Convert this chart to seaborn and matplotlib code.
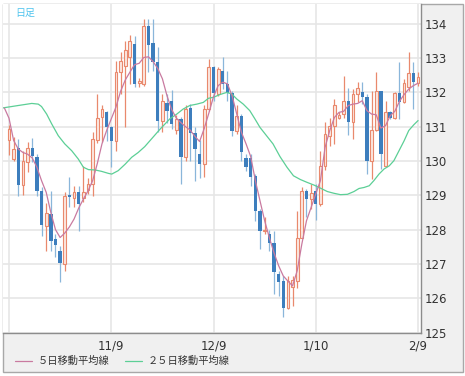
import matplotlib
matplotlib.use("Agg")
from matplotlib import pyplot as plt
from matplotlib.patches import Rectangle
from matplotlib.lines import Line2D
import seaborn as sns
import numpy as np
import pandas as pd

# daily candles, index 0 = first visible day
opens = [130.61, 130.06, 130.38, 129.30, 129.96, 130.38, 130.13, 129.13, 128.11, 128.47,
         127.72, 127.38, 127.01, 129.02, 128.92, 129.11, 128.92, 129.15, 129.33, 130.61,
         131.29, 131.42, 130.98, 130.59, 132.59, 132.78, 133.03, 133.40, 132.27, 132.25,
         133.95, 133.44, 132.88, 131.18, 131.70, 131.74, 130.90, 131.23, 130.13, 131.55,
         130.81, 130.20, 129.91, 131.52, 132.75, 131.96, 132.62, 132.25, 131.97, 130.89,
         131.32, 130.10, 130.10, 129.57, 128.55, 127.95, 127.87, 127.62, 126.72, 126.49,
         125.71, 126.33, 126.51, 127.77, 129.13, 128.89, 129.13, 128.74, 129.86, 130.74,
         131.03, 131.26, 131.37, 131.76, 131.13, 131.96, 132.00, 131.86, 129.99, 130.91,
         132.03, 129.86, 131.42, 131.27, 131.98, 131.71, 132.17, 132.56, 132.27]
highs = [131.06, 130.69, 130.64, 130.30, 130.55, 130.66, 130.20, 129.25, 128.77, 129.13,
         127.87, 127.53, 129.09, 129.54, 129.28, 129.28, 129.86, 129.52, 130.84, 131.96,
         131.64, 131.47, 131.03, 132.93, 133.19, 133.51, 133.68, 133.66, 132.42, 134.15,
         134.15, 134.15, 133.32, 131.96, 131.96, 132.07, 131.33, 131.28, 131.62, 131.66,
         130.98, 130.60, 131.62, 132.98, 132.78, 132.75, 133.03, 132.62, 132.03, 131.62,
         131.37, 130.20, 130.20, 129.62, 128.60, 128.36, 127.98, 127.97, 126.80, 126.66,
         126.66, 126.65, 128.55, 129.23, 129.18, 129.33, 129.33, 130.30, 131.13, 131.27,
         131.81, 131.42, 132.49, 132.13, 132.10, 132.30, 132.30, 131.96, 132.05, 132.59,
         132.05, 131.76, 131.47, 132.00, 132.88, 132.39, 133.17, 132.88, 132.59]
lows = [130.19, 130.00, 128.99, 129.00, 129.67, 129.96, 128.99, 127.80, 127.38, 127.38,
        127.19, 126.46, 126.80, 128.65, 128.65, 127.97, 128.80, 129.04, 128.99, 130.52,
        130.55, 130.59, 129.82, 130.30, 131.96, 130.98, 132.25, 132.15, 132.15, 132.20,
        132.59, 132.64, 130.84, 130.84, 131.10, 130.93, 130.80, 129.33, 130.00, 130.00,
        129.43, 129.52, 129.54, 131.47, 131.76, 131.91, 132.10, 131.76, 130.74, 130.80,
        130.00, 129.72, 129.28, 128.26, 127.43, 127.87, 127.38, 126.12, 126.07, 125.46,
        125.68, 125.78, 126.31, 127.77, 128.36, 128.60, 128.28, 128.70, 129.75, 130.45,
        130.50, 131.23, 131.27, 130.77, 130.64, 131.71, 131.66, 129.62, 129.47, 130.89,
        129.77, 129.82, 131.23, 131.23, 131.23, 131.69, 132.05, 131.52, 132.20]
closes = [130.93, 130.35, 129.31, 130.00, 130.37, 130.16, 129.13, 128.14, 128.48, 127.67,
          127.56, 127.04, 128.99, 128.96, 129.11, 128.76, 129.11, 129.33, 130.64, 131.27,
          131.52, 130.98, 130.59, 132.59, 132.91, 133.25, 133.49, 132.25, 132.33, 133.95,
          133.37, 132.88, 131.18, 131.74, 131.45, 131.08, 131.23, 130.13, 131.52, 130.81,
          130.35, 129.91, 131.52, 132.75, 131.97, 132.69, 132.25, 131.97, 130.89, 131.32,
          130.25, 129.83, 129.54, 128.55, 127.95, 128.00, 127.62, 126.75, 126.46, 125.71,
          126.49, 126.53, 127.77, 129.13, 128.89, 129.06, 128.74, 129.86, 130.79, 131.03,
          131.62, 131.35, 131.76, 131.13, 131.96, 132.13, 131.86, 129.99, 130.91, 132.03,
          130.20, 131.42, 131.27, 131.98, 131.71, 132.27, 132.56, 132.30, 132.46]

# 5-day moving average, one value per day (starting one day before the first candle)
ma5_x = list(range(-1, 89))
ma5 = [131.55, 131.25, 130.60, 130.35, 130.25, 130.20, 130.09, 129.82, 129.43, 129.09,
       128.50, 128.00, 127.77, 127.90, 128.08, 128.31, 128.63, 128.89, 129.13, 129.43,
       129.93, 130.50, 130.89, 131.23, 131.57, 132.03, 132.36, 132.59, 132.81, 132.85,
       133.02, 133.04, 132.90, 132.70, 132.40, 131.90, 131.50, 131.25, 131.12, 131.00,
       130.90, 130.72, 130.57, 130.95, 131.40, 131.88, 132.20, 132.30, 132.25, 131.90,
       131.37, 130.84, 130.50, 130.13, 129.43, 128.84, 128.26, 127.77, 127.33, 126.95,
       126.65, 126.50, 126.36, 126.80, 127.58, 128.26, 128.65, 129.04, 129.43, 130.40,
       130.89, 131.27, 131.42, 131.45, 131.62, 131.66, 131.68, 131.76, 131.47, 131.37,
       131.35, 130.96, 131.03, 131.32, 131.45, 131.74, 131.94, 132.10, 132.20, 132.27]

# 25-day moving average, sampled along the drawn line
ma25_x = [-1.3, 2.0, 4.9, 6.3, 7.0, 8.1, 9.2, 10.6, 12.0, 13.5, 14.9, 16.0, 17.1, 18.5,
          19.9, 21.4, 22.1, 23.5, 25.0, 26.4, 27.8, 29.2, 30.3, 32.5, 34.6, 36.1, 37.5,
          38.9, 40.4, 41.8, 42.9, 44.0, 45.4, 46.8, 47.9, 49.0, 50.4, 51.8, 52.9, 54.0,
          55.4, 56.8, 58.3, 59.8, 61.2, 62.7, 64.1, 65.6, 67.0, 68.5, 69.9, 71.3, 72.8,
          74.2, 75.3, 76.4, 77.5, 78.5, 79.6, 80.7, 81.8, 82.8, 83.9, 85.0, 86.0, 87.1, 88.0]
ma25 = [131.55, 131.62, 131.68, 131.66, 131.59, 131.37, 131.08, 130.74, 130.50, 130.30,
        130.06, 129.82, 129.75, 129.74, 129.70, 129.64, 129.62, 129.72, 129.91, 130.11,
        130.25, 130.42, 130.59, 130.93, 131.23, 131.37, 131.52, 131.62, 131.66, 131.71,
        131.83, 131.86, 131.94, 132.00, 131.96, 131.81, 131.66, 131.47, 131.23, 130.98,
        130.74, 130.50, 130.13, 129.82, 129.57, 129.46, 129.38, 129.30, 129.21, 129.11,
        129.06, 129.02, 129.03, 129.11, 129.20, 129.23, 129.28, 129.43, 129.62, 129.77,
        129.86, 130.01, 130.30, 130.59, 130.89, 131.06, 131.18]

tick_pos = [0, 22, 44, 66, 88]
tick_labels = ["", "11/9", "12/9", "1/10", "2/9"]
y_ticks = [125, 126, 127, 128, 129, 130, 131, 132, 133, 134]

W, H = 465, 376

sns.set_style("white")
plt.rcParams['font.family'] = ['Liberation Sans Narrow', 'DejaVu Sans']
jp = ['Noto Sans CJK JP', 'DejaVu Sans']

fig = plt.figure(figsize=(W / 100, H / 100), dpi=100)
fig.patch.set_facecolor('white')
# outer grey panel
fig.add_artist(Rectangle((2.5 / W, (H - 371.5) / H), 460 / W, 367.5 / H,
                         transform=fig.transFigure, facecolor='#f0f0f0',
                         edgecolor='#a8a8a8', lw=1, zorder=0))

ax = fig.add_axes([3 / W, (H - 332.5) / H, 417.7 / W, 328.5 / H])
ax.set_facecolor('white')

df = pd.DataFrame({'o': opens, 'h': highs, 'l': lows, 'c': closes})
df['x'] = np.arange(len(df))
up = df[df.c >= df.o]
dn = df[df.c < df.o]

ax.vlines(up.x, up.l, up.h, color='#e9896d', lw=0.9, zorder=3)
ax.vlines(dn.x, dn.l, dn.h, color='#8ab6da', lw=0.9, zorder=3)
ax.bar(up.x, np.maximum(up.c - up.o, 0.03), bottom=up.o, width=0.6,
       facecolor='#fce8e1', edgecolor='#e9896d', lw=0.8, zorder=4)
ax.bar(dn.x, np.maximum(dn.o - dn.c, 0.03), bottom=dn.c, width=0.72,
       color='#3d7ebd', lw=0, zorder=4)

sns.lineplot(x=ma25_x, y=ma25, ax=ax, color='#5ccf96', lw=0.9, zorder=5)
sns.lineplot(x=ma5_x, y=ma5, ax=ax, color='#c97aa0', lw=0.9, zorder=6)

ax.set_xlim(-1.29, 88.57)
ax.set_ylim(125, 134.58)
ax.set_xticks(tick_pos)
ax.set_xticklabels(tick_labels)
ax.set_yticks(y_ticks)
ax.yaxis.tick_right()
ax.tick_params(axis='both', length=0, labelsize=8.5, colors='#333333')
ax.tick_params(axis='x', pad=5)
ax.tick_params(axis='y', pad=2.5)
ax.grid(True, color='#e6e6e6', lw=1.2)
ax.set_axisbelow(True)
ax.set_xlabel('')
ax.set_ylabel('')
for side in ['top', 'left']:
    ax.spines[side].set_visible(False)
for side in ['right', 'bottom']:
    ax.spines[side].set_color('#8c8c8c')
    ax.spines[side].set_linewidth(1)

fig.text(15 / W, 1 - 12.5 / H, '日足', color='#4fc4ee', fontsize=7.2,
         family=jp, va='center', ha='left')

# legend below the plot
ly = 1 - 360.7 / H
fig.add_artist(Line2D([15 / W, 32 / W], [ly, ly], color='#c97aa0', lw=0.9,
                      transform=fig.transFigure))
fig.text(38 / W, ly, '５日移動平均線', fontsize=7.4, family=jp, color='#333333',
         va='center', ha='left')
fig.add_artist(Line2D([125 / W, 142 / W], [ly, ly], color='#5ccf96', lw=0.9,
                      transform=fig.transFigure))
fig.text(148 / W, ly, '２５日移動平均線', fontsize=7.4, family=jp, color='#333333',
         va='center', ha='left')

plt.savefig('out.png', dpi=100)
